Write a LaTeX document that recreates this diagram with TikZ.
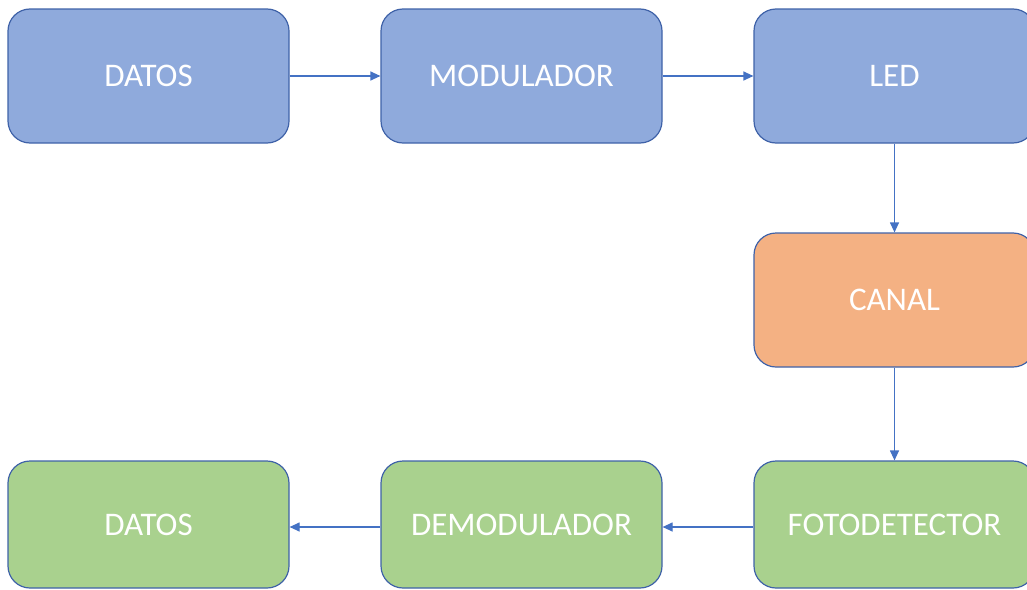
\documentclass[tikz,border=0pt]{standalone}
\usepackage{fontspec}
\setmainfont{Carlito}
\usetikzlibrary{arrows.meta}
\definecolor{bluefill}{HTML}{8FAADC}
\definecolor{orangefill}{HTML}{F4B183}
\definecolor{greenfill}{HTML}{A9D18E}
\definecolor{boxline}{HTML}{3F62A8}
\definecolor{arrowline}{HTML}{4472C4}
\begin{document}
\begin{tikzpicture}[x=1pt,y=-1pt,
  block/.style={draw=boxline, line width=1.2pt, rounded corners=22pt,
    minimum width=281pt, minimum height=134pt, inner sep=0pt,
    text=white, font=\fontsize{33}{38}\selectfont},
  bluebox/.style={block, fill=bluefill},
  orangebox/.style={block, fill=orangefill},
  greenbox/.style={block, fill=greenfill, minimum height=127pt},
  flow/.style={draw=arrowline, line width=1.2pt, -{Triangle[length=10pt,width=9pt]}}]
\useasboundingbox (0,0) rectangle (1027,589);
\begin{scope}
\clip (0,0) rectangle (1027,589);
\node[bluebox] (datosin) at (148.5,76) {DATOS};
\node[bluebox] (mod) at (521.5,76) {MODULADOR};
\node[bluebox] (led) at (894.5,76) {LED};
\node[orangebox] (canal) at (894.5,300) {CANAL};
\node[greenbox] (foto) at (894.5,524.5) {\raisebox{-3.5pt}{FOTODETECTOR}};
\node[greenbox] (demod) at (521.5,524.5) {\raisebox{-3.5pt}{DEMODULADOR}};
\node[greenbox] (datosout) at (148.5,524.5) {\raisebox{-3.5pt}{DATOS}};
\end{scope}
\draw[flow] (datosin) -- (mod);
\draw[flow] (mod) -- (led);
\draw[flow] (led) -- (canal);
\draw[flow] (canal) -- (foto);
\draw[flow] (foto.west |- 0,527) -- (demod.east |- 0,527);
\draw[flow] (demod.west |- 0,527) -- (datosout.east |- 0,527);
\end{tikzpicture}
\end{document}
